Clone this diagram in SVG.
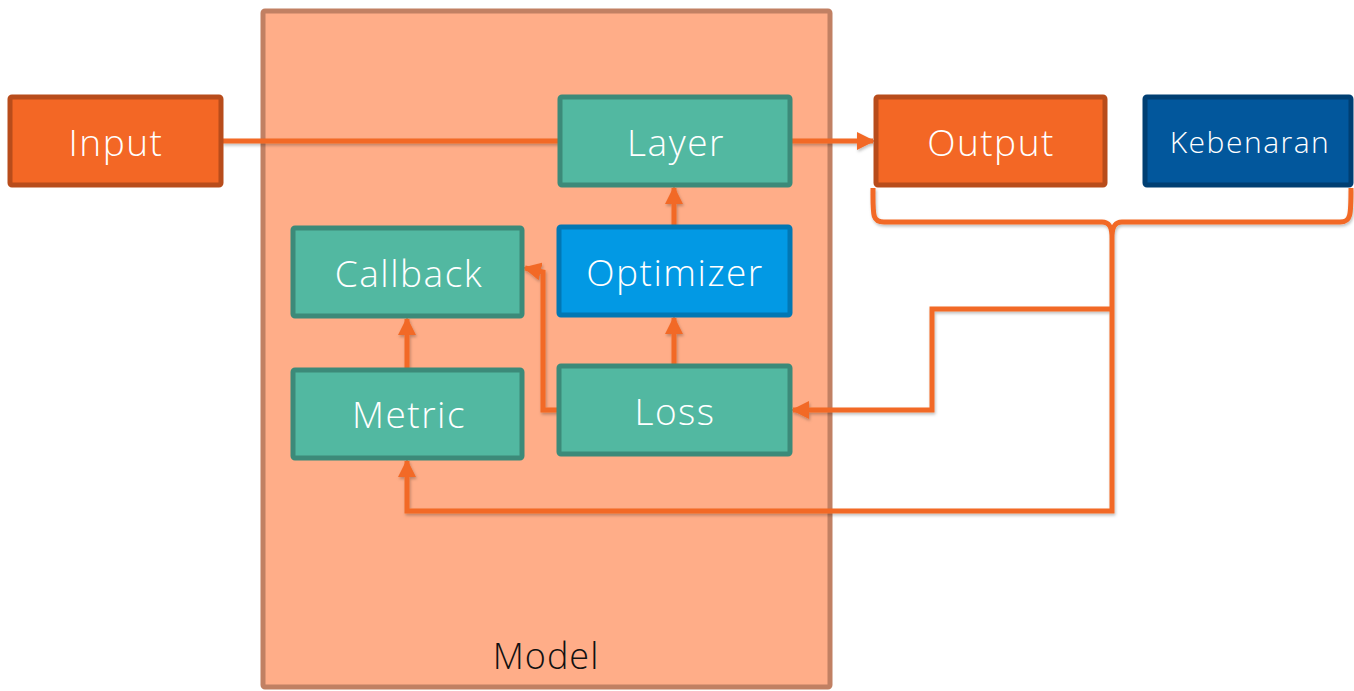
<svg xmlns="http://www.w3.org/2000/svg" width="1354" height="691" viewBox="0 0 1354 691">
  <style>
    .box { stroke-width: 5; }
    .orange { fill: #F36725; stroke: #B84C1B; }
    .teal { fill: #52B8A1; stroke: #3C8A79; }
    .blue { fill: #0299E4; stroke: #0277B3; }
    .navy { fill: #02579C; stroke: #003F73; }
    .label { font-family: "Open Sans", "Lato", sans-serif; font-weight: 300; fill: #ffffff; text-anchor: middle; dominant-baseline: central; letter-spacing: 1.5px; }
    .wire { fill: none; stroke: #F26926; stroke-width: 5; stroke-linejoin: miter; }
  </style>
  <defs>
    <marker id="arrow" viewBox="0 0 18 18" refX="16" refY="9" markerWidth="18" markerHeight="18" markerUnits="userSpaceOnUse" orient="auto">
      <path d="M0,0 L18,9 L0,18 Z" fill="#F26926"/>
    </marker>
    <filter id="shadow" x="-5%" y="-5%" width="110%" height="110%">
      <feDropShadow dx="1" dy="2" stdDeviation="1.5" flood-color="#000" flood-opacity="0.25"/>
    </filter>
  </defs>

  <!-- Model container -->
  <g id="model">
    <rect x="263" y="11" width="567" height="676" rx="2" fill="#FFAD88" stroke="#C18063" stroke-width="5"/>
    <text x="546" y="655" font-family="'Open Sans', Lato, sans-serif" font-weight="300" font-size="36" letter-spacing="1" fill="#111" text-anchor="middle" dominant-baseline="central">Model</text>
  </g>

  <!-- Connectors -->
  <g id="connectors" filter="url(#shadow)">
    <path class="wire" d="M222,141 L559,141"/>
    <path class="wire" d="M791,141 L873,141" marker-end="url(#arrow)"/>
    <path class="wire" d="M674,226 L674,188" marker-end="url(#arrow)"/>
    <path class="wire" d="M674,365 L674,318" marker-end="url(#arrow)"/>
    <path class="wire" d="M407,369 L407,319" marker-end="url(#arrow)"/>
    <path class="wire" d="M558,410 L543,410 L543,272 L525,268" marker-end="url(#arrow)"/>
    <!-- brace under Output and Kebenaran -->
    <path class="wire" d="M873,188 C873,215 872,222 884,222 L1102,222 C1110,222 1112,228 1112,238 C1112,228 1114,222 1122,222 L1340,222 C1351,222 1351,215 1351,188"/>
    <path class="wire" d="M1112,238 L1112,511 L407,511 L407,461" marker-end="url(#arrow)"/>
    <path class="wire" d="M1112,309 L932,309 L932,410 L793,410" marker-end="url(#arrow)"/>
  </g>

  <g id="input">
    <rect class="box orange" x="10" y="97" width="211" height="88" rx="2"/>
    <text class="label" x="116" y="141" font-size="37">Input</text>
  </g>
  <g id="layer">
    <rect class="box teal" x="560" y="97" width="230" height="88" rx="2"/>
    <text class="label" x="676" y="141" font-size="37">Layer</text>
  </g>
  <g id="output">
    <rect class="box orange" x="876" y="97" width="229" height="88" rx="2"/>
    <text class="label" x="991" y="141" font-size="37">Output</text>
  </g>
  <g id="kebenaran">
    <rect class="box navy" x="1145" y="97" width="206" height="88" rx="2"/>
    <text class="label" x="1250" y="141" font-size="30" letter-spacing="1">Kebenaran</text>
  </g>
  <g id="callback">
    <rect class="box teal" x="293" y="228" width="229" height="88" rx="2"/>
    <text class="label" x="409" y="272" font-size="37">Callback</text>
  </g>
  <g id="optimizer">
    <rect class="box blue" x="559" y="227" width="231" height="88" rx="2"/>
    <text class="label" x="675" y="271" font-size="37">Optimizer</text>
  </g>
  <g id="metric">
    <rect class="box teal" x="293" y="370" width="229" height="88" rx="2"/>
    <text class="label" x="409" y="413" font-size="37">Metric</text>
  </g>
  <g id="loss">
    <rect class="box teal" x="559" y="366" width="231" height="88" rx="2"/>
    <text class="label" x="675" y="410" font-size="37">Loss</text>
  </g>
</svg>
